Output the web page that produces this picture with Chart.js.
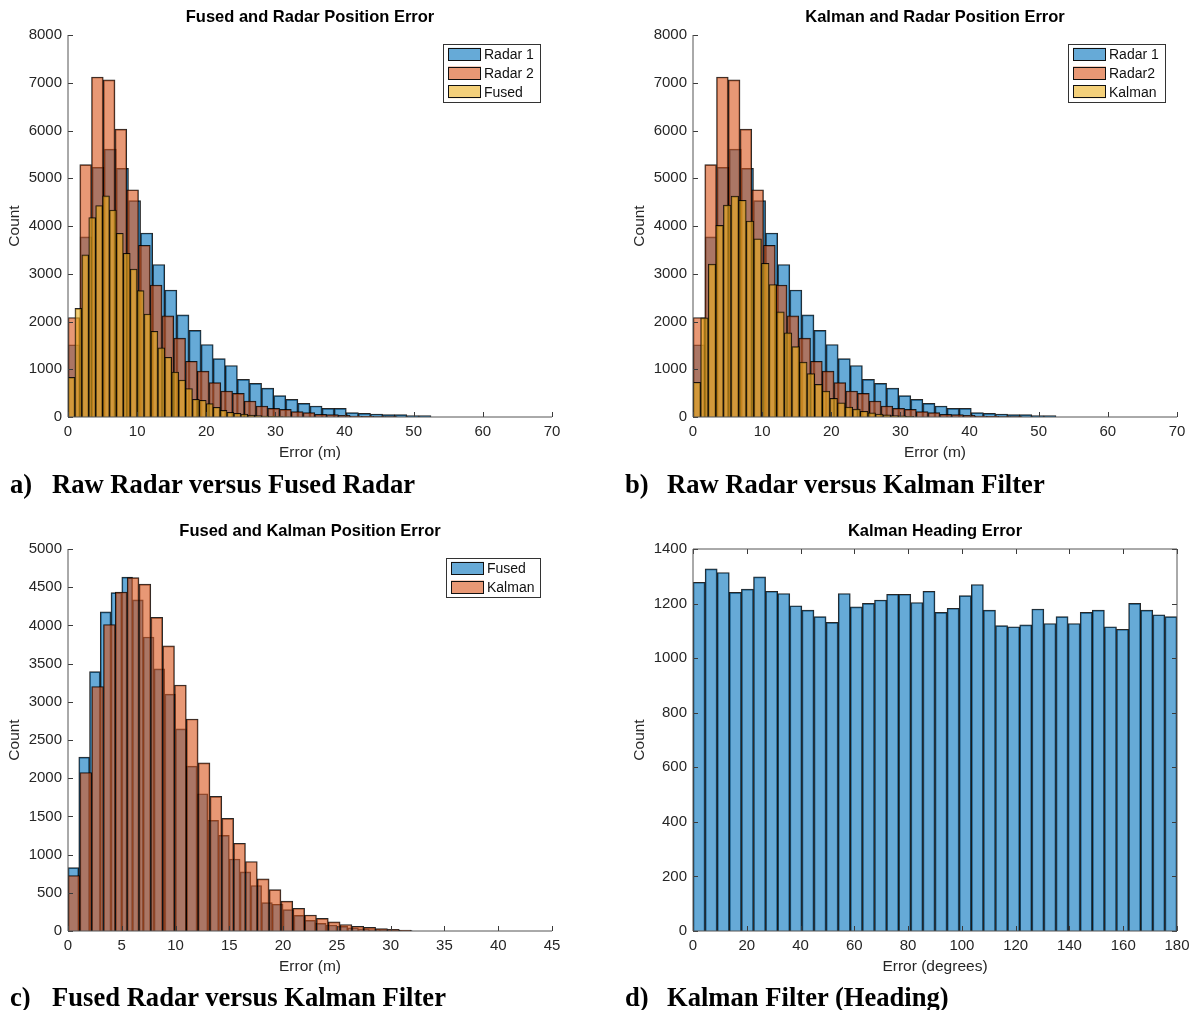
<!DOCTYPE html>
<html lang="en">
<head>
<meta charset="UTF-8">
<script src="https://cdn.jsdelivr.net/npm/chart.js"></script>
<title>Position and heading error histograms</title>
<style>
    body { margin: 0; width: 1189px; height: 1010px; overflow: hidden; background: #fff; position: relative; }
    .panel { position: absolute; }
    .cap { position: absolute; font-family: "Liberation Serif", "Times New Roman", serif; font-weight: bold;
           font-size: 26.6px; line-height: 26px; color: #000; white-space: nowrap; }
    .cap span { display: inline-block; width: 42px; }
</style>
</head>
<body>
<div class="panel" style="left:0px;top:0px"><canvas id="chartA" width="600" height="470"></canvas></div>
<div class="panel" style="left:625px;top:0px"><canvas id="chartB" width="600" height="470"></canvas></div>
<div class="panel" style="left:0px;top:514px"><canvas id="chartC" width="600" height="470"></canvas></div>
<div class="panel" style="left:625px;top:514px"><canvas id="chartD" width="600" height="470"></canvas></div>

<div class="cap" style="left:10px;top:471px"><span>a)</span>Raw Radar versus Fused Radar</div>
<div class="cap" style="left:625px;top:471px"><span>b)</span>Raw Radar versus Kalman Filter</div>
<div class="cap" style="left:10px;top:984px"><span>c)</span>Fused Radar versus Kalman Filter</div>
<div class="cap" style="left:625px;top:984px"><span>d)</span>Kalman Filter (Heading)</div>

<script>
    Chart.defaults.font.family = '"Liberation Sans", Arial, Helvetica, sans-serif';
    Chart.defaults.font.size = 15;
    Chart.defaults.color = '#262626';
    Chart.defaults.animation = false;

    // bin widths
    const radar1BinWidth = 1.75;
    const radar2BinWidth = 1.70;
    const fusedBinWidth = 1.0;
    const kalmanBinWidth = 1.1;
    const headingBinWidth = 4.5;

    // counts per bin, first bin starts at 0
    const radar1Counts = [1514, 3771, 5229, 5611, 5208, 4530, 3854, 3194, 2660, 2140, 1813, 1518, 1222, 1079, 787,
        703, 606, 446, 369, 285, 230, 182, 182, 91, 77, 63, 49, 49, 28, 28];
    const radar2Counts = [2083, 5285, 7120, 7060, 6028, 4760, 3597, 2764, 2118, 1653, 1167, 960, 719, 545, 496,
        335, 230, 182, 161, 112, 91, 56, 49, 35, 21, 14, 10, 7];
    const fusedCounts = [830, 2276, 3395, 4178, 4430, 4632, 4335, 3848, 3430, 3100, 2645, 2158, 1796, 1447, 1252,
        942, 774, 596, 372, 350, 279, 205, 140, 100, 78, 60, 42, 30, 20, 13, 8, 5];
    const kalmanCounts = [727, 2075, 3200, 4012, 4437, 4625, 4540, 4105, 3733, 3220, 2775, 2200, 1762, 1475, 1148,
        910, 682, 542, 390, 298, 210, 165, 120, 85, 62, 48, 32, 22, 12];
    const headingCounts = [1278, 1327, 1314, 1241, 1253, 1298, 1245, 1237, 1192, 1176, 1152, 1131, 1237, 1188, 1201,
        1213, 1234, 1234, 1204, 1245, 1168, 1183, 1229, 1270, 1176, 1119, 1115, 1122, 1180, 1127, 1152, 1127, 1168,
        1176, 1115, 1106, 1201, 1176, 1159, 1152];

    // tick labels
    const errorTicksAB = [0, 10, 20, 30, 40, 50, 60, 70];
    const countTicksAB = [0, 1000, 2000, 3000, 4000, 5000, 6000, 7000, 8000];
    const errorTicksC = [0, 5, 10, 15, 20, 25, 30, 35, 40, 45];
    const countTicksC = [0, 500, 1000, 1500, 2000, 2500, 3000, 3500, 4000, 4500, 5000];
    const headingTicks = [0, 20, 40, 60, 80, 100, 120, 140, 160, 180];
    const headingCountTicks = [0, 200, 400, 600, 800, 1000, 1200, 1400];

    // matlab default colours with FaceAlpha 0.6
    const BLUE = 'rgba(0,114,189,0.6)';
    const ORANGE = 'rgba(217,83,25,0.6)';
    const YELLOW = 'rgba(237,177,32,0.6)';

    function toBins(counts, width) {
        return counts.map((c, i) => ({ x: (i + 0.5) * width, y: c }));
    }

    // axis lines + inward ticks drawn on top of the bars, like matlab
    const matlabAxes = {
        id: 'matlabAxes',
        afterDatasetsDraw(chart, args, opts) {
            const { ctx, chartArea: a } = chart;
            const x = chart.scales.x, y = chart.scales.y;
            const tl = 5;
            ctx.save();
            ctx.strokeStyle = '#3a3a3a';
            ctx.lineWidth = 1;
            ctx.beginPath();
            x.ticks.forEach(t => {
                const px = Math.round(x.getPixelForValue(t.value)) + 0.5;
                ctx.moveTo(px, a.bottom); ctx.lineTo(px, a.bottom - tl);
                if (opts.box) { ctx.moveTo(px, a.top); ctx.lineTo(px, a.top + tl); }
            });
            y.ticks.forEach(t => {
                const py = Math.round(y.getPixelForValue(t.value)) + 0.5;
                ctx.moveTo(a.left, py); ctx.lineTo(a.left + tl, py);
                if (opts.box) { ctx.moveTo(a.right, py); ctx.lineTo(a.right - tl, py); }
            });
            ctx.stroke();
            ctx.strokeStyle = '#555';
            ctx.beginPath();
            ctx.moveTo(a.left, a.top); ctx.lineTo(a.left, a.bottom); ctx.lineTo(a.right, a.bottom);
            if (opts.box) { ctx.lineTo(a.right, a.top); ctx.lineTo(a.left, a.top); }
            ctx.stroke();
            ctx.restore();
        }
    };

    // boxed legend in the top right corner of the axes
    const boxLegend = {
        id: 'boxLegend',
        afterDraw(chart, args, opts) {
            if (!opts.show) return;
            const { ctx, chartArea: a } = chart;
            const items = chart.data.datasets.map(d => ({ text: d.label, color: d.backgroundColor }));
            ctx.save();
            ctx.font = '14px "Liberation Sans", Arial, sans-serif';
            const textW = Math.max(...items.map(it => ctx.measureText(it.text).width));
            const rowH = 18.7, patchW = 33, patchH = 13;
            const w = Math.round(5 + patchW + 3 + textW + 6);
            const h = Math.round(items.length * rowH + 2);
            const right = a.right - 12, top = Math.round(a.top + 9);
            const left = Math.round(right - w);
            ctx.fillStyle = '#fff';
            ctx.fillRect(left, top, w, h);
            ctx.strokeStyle = '#333';
            ctx.lineWidth = 1;
            ctx.strokeRect(left + 0.5, top + 0.5, w, h);
            items.forEach((it, i) => {
                const cy = top + 1 + rowH * (i + 0.5);
                ctx.fillStyle = it.color;
                ctx.fillRect(left + 5, cy - patchH / 2, patchW, patchH);
                ctx.strokeStyle = '#111';
                ctx.strokeRect(left + 5.5, Math.round(cy - patchH / 2) + 0.5, patchW - 1, patchH - 1);
                ctx.fillStyle = '#111';
                ctx.textBaseline = 'middle';
                ctx.fillText(it.text, left + 5 + patchW + 3, cy + 1);
            });
            ctx.restore();
        }
    };

    function setTicks(list) {
        return scale => { scale.ticks = list.map(v => ({ value: v })); };
    }

    function histChart(id, cfg) {
        const xMax = cfg.xTicks[cfg.xTicks.length - 1];
        const scales = {
            y: {
                min: 0, max: cfg.yTicks[cfg.yTicks.length - 1],
                afterBuildTicks: setTicks(cfg.yTicks),
                afterFit: s => { s.width = 68; },
                grid: { display: false, drawTicks: false },
                border: { display: false },
                ticks: { padding: 6, callback: v => String(v) },
                title: { display: true, text: 'Count', font: { size: 15.5 }, padding: { top: 5, bottom: 0 } }
            }
        };
        const datasets = cfg.series.map((s, i) => {
            // each histogram has its own bin width, so each gets its own (hidden) x axis
            const axisId = i === 0 ? 'x' : 'x' + i;
            if (i === 0) {
                scales.x = {
                    type: 'linear', min: 0, max: xMax, offset: false,
                    afterBuildTicks: setTicks(cfg.xTicks),
                    afterFit: sc => { sc.height = 53; },
                    grid: { display: false, drawTicks: false, offset: false },
                    border: { display: false },
                    ticks: { padding: 6, autoSkip: false, maxRotation: 0, callback: v => String(v) },
                    title: { display: true, text: cfg.xTitle, font: { size: 15.5 }, padding: { top: 2, bottom: 8 } }
                };
            } else {
                scales[axisId] = {
                    type: 'linear', axis: 'x', position: 'bottom', display: false,
                    min: 0, max: xMax, offset: false,
                    afterBuildTicks: setTicks(cfg.xTicks),
                    grid: { offset: false }
                };
            }
            return {
                label: s.label,
                data: toBins(s.counts, s.width),
                xAxisID: axisId,
                order: cfg.series.length - i,
                grouped: false,
                backgroundColor: s.color,
                borderColor: 'rgba(0,0,0,0.85)',
                borderWidth: 1,
                categoryPercentage: 1,
                barPercentage: 1
            };
        });

        return new Chart(document.getElementById(id), {
            type: 'bar',
            data: { datasets: datasets },
            options: {
                responsive: false,
                layout: { padding: { left: 0, top: 0, right: 48, bottom: 0 } },
                scales: scales,
                plugins: {
                    legend: { display: false },
                    tooltip: { enabled: false },
                    title: {
                        display: true, text: cfg.title, fullSize: false, color: '#000',
                        font: { size: 16.5, weight: 'bold' }, padding: { top: 8, bottom: 7.2 }
                    },
                    matlabAxes: { box: !!cfg.box },
                    boxLegend: { show: cfg.legend !== false }
                }
            },
            plugins: [matlabAxes, boxLegend]
        });
    }

    histChart('chartA', {
        title: 'Fused and Radar Position Error', xTitle: 'Error (m)',
        xTicks: errorTicksAB, yTicks: countTicksAB,
        series: [
            { label: 'Radar 1', counts: radar1Counts, width: radar1BinWidth, color: BLUE },
            { label: 'Radar 2', counts: radar2Counts, width: radar2BinWidth, color: ORANGE },
            { label: 'Fused', counts: fusedCounts, width: fusedBinWidth, color: YELLOW }
        ]
    });

    histChart('chartB', {
        title: 'Kalman and Radar Position Error', xTitle: 'Error (m)',
        xTicks: errorTicksAB, yTicks: countTicksAB,
        series: [
            { label: 'Radar 1', counts: radar1Counts, width: radar1BinWidth, color: BLUE },
            { label: 'Radar2', counts: radar2Counts, width: radar2BinWidth, color: ORANGE },
            { label: 'Kalman', counts: kalmanCounts, width: kalmanBinWidth, color: YELLOW }
        ]
    });

    histChart('chartC', {
        title: 'Fused and Kalman Position Error', xTitle: 'Error (m)',
        xTicks: errorTicksC, yTicks: countTicksC,
        series: [
            { label: 'Fused', counts: fusedCounts, width: fusedBinWidth, color: BLUE },
            { label: 'Kalman', counts: kalmanCounts, width: kalmanBinWidth, color: ORANGE }
        ]
    });

    histChart('chartD', {
        title: 'Kalman Heading Error', xTitle: 'Error (degrees)',
        xTicks: headingTicks, yTicks: headingCountTicks, box: true, legend: false,
        series: [
            { label: 'Heading', counts: headingCounts, width: headingBinWidth, color: BLUE }
        ]
    });
</script>
</body>
</html>
